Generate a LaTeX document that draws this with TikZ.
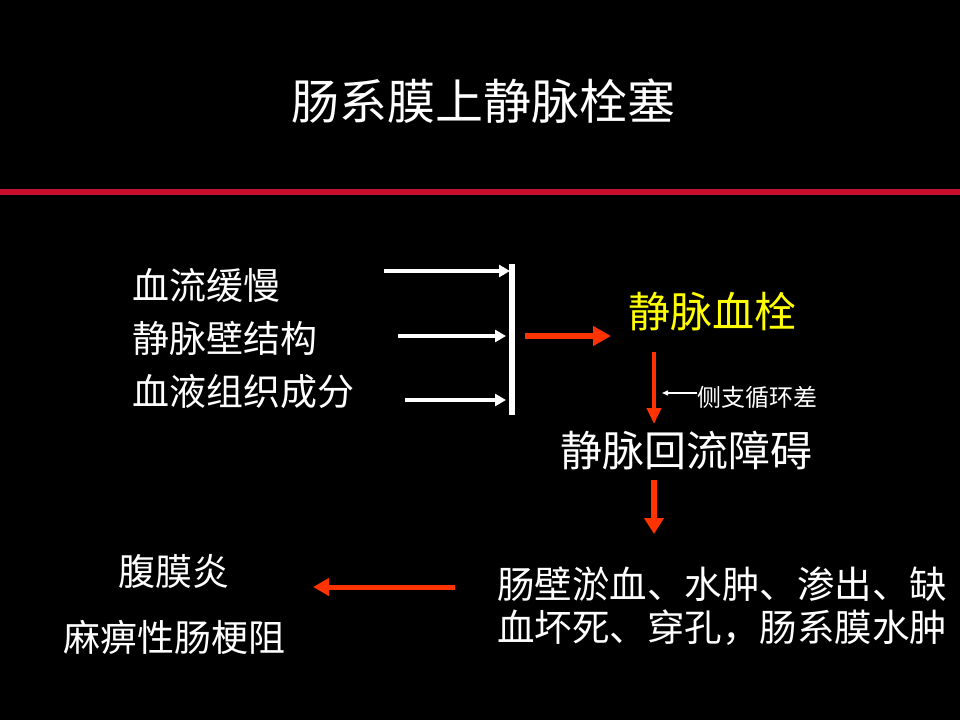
\documentclass[tikz,border=0pt]{standalone}
\usepackage{fontspec}
\setmainfont{Noto Sans CJK SC}
\newfontfamily\cjk{Noto Sans CJK SC}
\usetikzlibrary{arrows.meta}
\definecolor{barred}{RGB}{200,16,46}
\definecolor{arrred}{RGB}{255,51,0}
\definecolor{ylw}{RGB}{255,255,0}
\tikzset{
  lbl/.style={inner sep=0pt, text=white, font=\cjk\fontsize{37}{44}\selectfont},
  whitearr/.style={draw=white, line width=3.5pt, -{Triangle[length=11pt,width=12pt]}},
  redarr/.style={draw=arrred, line width=5pt, -{Triangle[length=17pt,width=17pt]}},
  redthin/.style={draw=arrred, line width=4pt, -{Triangle[length=16pt,width=14pt]}},
}
\begin{document}
\begin{tikzpicture}[x=1pt,y=-1pt]
\fill[black] (0,0) rectangle (960,720);
\useasboundingbox (0,0) rectangle (960,720);
% title
\node[lbl, font=\cjk\fontsize{48}{56}\selectfont] (title) at (483,101) {肠系膜上静脉栓塞};
% red rule
\coordinate (ruleL) at (0,192);
\coordinate (ruleR) at (960,192);
\draw[barred, line width=6pt] (ruleL) -- (ruleR);
% left causes
\node[lbl, anchor=west] (c1) at (132,285) {血流缓慢};
\node[lbl, anchor=west] (c2) at (132,338) {静脉壁结构};
\node[lbl, anchor=west] (c3) at (132,392) {血液组织成分};
% vertical bar
\coordinate (barT) at (512,264);
\coordinate (barB) at (512,415);
\draw[white, line width=6pt] (barT) -- (barB);
% white arrows
\coordinate (a1s) at (384,271);
\coordinate (a1e) at (510,271);
\coordinate (a2s) at (398,336);
\coordinate (a2e) at (506,336);
\coordinate (a3s) at (405,400);
\coordinate (a3e) at (506,400);
\draw[whitearr] (a1s) -- (a1e);
\draw[whitearr] (a2s) -- (a2e);
\draw[whitearr] (a3s) -- (a3e);
% red arrow to thrombus
\coordinate (r1s) at (525,336);
\coordinate (r1e) at (611,336);
\draw[redarr, line width=6pt, -{Triangle[length=18pt,width=19pt]}] (r1s) -- (r1e);
% thrombus
\node[lbl, text=ylw, font=\cjk\fontsize{42}{50}\selectfont] (thr) at (712,312) {静脉血栓};
% obstruction
\node[lbl, font=\cjk\fontsize{42}{50}\selectfont] (obs) at (686,450) {静脉回流障碍};
% down arrow 1
\coordinate (d1s) at (654,352);
\coordinate (d1e) at (654,424);
\draw[redthin] (d1s) -- (d1e);
% side label
\node[lbl, anchor=west, font=\cjk\fontsize{24}{29}\selectfont] (side) at (697,397) {侧支循环差};
\draw[white, line width=1.3pt, -{Triangle[length=6pt,width=5pt]}] (side.west |- 0,393) -- (662,393);
% down arrow 2
\coordinate (d2s) at (654,480);
\coordinate (d2e) at (654,534);
\draw[redarr, line width=6.5pt, -{Triangle[length=16pt,width=19pt]}] (d2s) -- (d2e);
% results
\node[lbl, anchor=west, font=\cjk\fontsize{37.5}{44}\selectfont] (res1) at (497,584) {肠壁淤血、水肿、渗出、缺};
\node[lbl, anchor=west, font=\cjk\fontsize{37.5}{44}\selectfont] (res2) at (497,628) {血坏死、穿孔，肠系膜水肿};
% left arrow
\coordinate (l1s) at (455,587);
\coordinate (l1e) at (313,587);
\draw[redarr, line width=5pt, -{Triangle[length=16pt,width=17pt]}] (l1s) -- (l1e);
% consequences
\node[lbl] (p1) at (174,571) {腹膜炎};
\node[lbl] (p2) at (174,637) {麻痹性肠梗阻};
\end{tikzpicture}
\end{document}
